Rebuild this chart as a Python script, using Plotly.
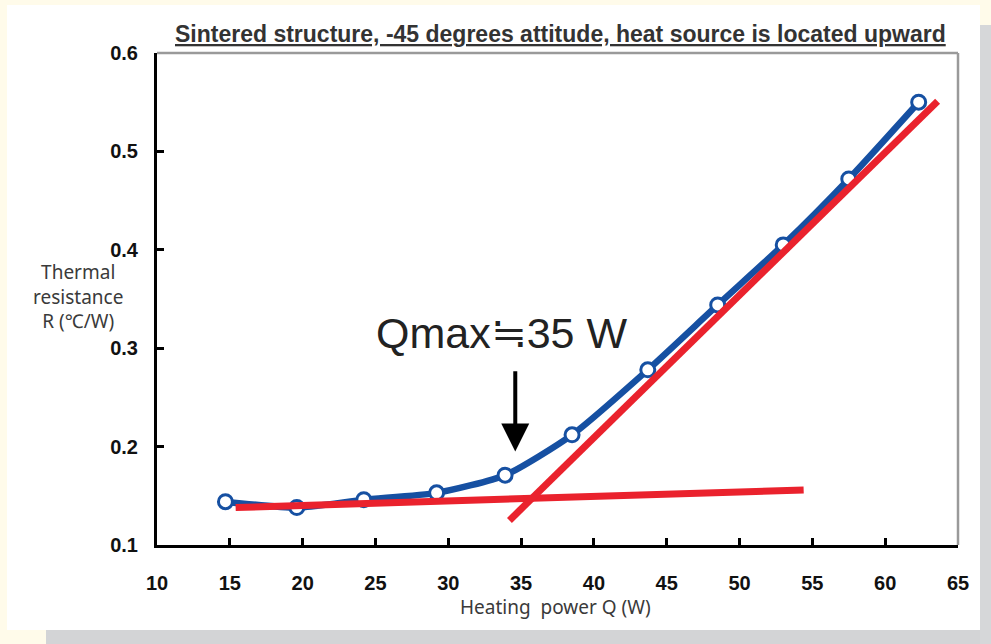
import plotly.graph_objects as go

# Measured data
heating_power = [14.7, 19.6, 24.2, 29.2, 33.9, 38.5, 43.7, 48.5, 53.0, 57.5, 62.3]
thermal_res = [0.144, 0.138, 0.146, 0.153, 0.171, 0.212, 0.278, 0.344, 0.405, 0.472, 0.550]

# Fitted asymptote lines
flat_x = [15.4, 54.4]
flat_y = [0.138, 0.156]
steep_x = [34.2, 63.6]
steep_y = [0.125, 0.551]

# Annotation arrow (Qmax)
arrow_x = 34.6
arrow_tail_y = 0.278
arrow_tip_y = 0.195

x_ticks = [10, 15, 20, 25, 30, 35, 40, 45, 50, 55, 60, 65]
y_ticks = [0.1, 0.2, 0.3, 0.4, 0.5, 0.6]

W, H = 991, 644
L, R, T, B = 157, 33, 53, 99
PW, PH = W - L - R, H - T - B

def px(x):
    return (x - L) / PW

def py(y):
    return (H - B - y) / PH

BLUE = "#1650a2"
RED = "#ea222d"

fig = go.Figure()
fig.add_trace(go.Scatter(
    x=heating_power, y=thermal_res, mode="lines+markers",
    line=dict(color=BLUE, width=6.5, shape="spline", smoothing=0.6),
    marker=dict(symbol="circle", size=14, color="white", line=dict(color=BLUE, width=3)),
    showlegend=False, cliponaxis=False))
fig.add_trace(go.Scatter(x=flat_x, y=flat_y, mode="lines",
                         line=dict(color=RED, width=7), showlegend=False))
fig.add_trace(go.Scatter(x=steep_x, y=steep_y, mode="lines",
                         line=dict(color=RED, width=7), showlegend=False))

shapes = [
    dict(type="rect", xref="paper", yref="paper", x0=px(46), x1=px(991), y0=py(644), y1=py(628),
         fillcolor="#d3d4d6", line=dict(width=0), layer="below"),
    dict(type="rect", xref="paper", yref="paper", x0=px(980), x1=px(991), y0=py(644), y1=py(25),
         fillcolor="#d6d7d9", line=dict(width=0), layer="below"),
    dict(type="rect", xref="paper", yref="paper", x0=px(7), x1=px(980), y0=py(630), y1=py(5),
         fillcolor="white", line=dict(width=0), layer="below"),
    dict(type="line", xref="paper", yref="paper", x0=0, x1=1, y0=1, y1=1,
         line=dict(color="#9a9a9a", width=2.5)),
    dict(type="line", xref="paper", yref="paper", x0=1, x1=1, y0=0, y1=1,
         line=dict(color="#9a9a9a", width=2.5)),
]

def ann(text, x, y, size, family, color="#333333", weight="normal"):
    return dict(text=text, xref="paper", yref="paper", x=px(x), y=py(y), showarrow=False,
                xanchor="center", yanchor="middle", align="center",
                font=dict(family=family, size=size, color=color, weight=weight))

annotations = [
    ann("<u>Sintered structure, -45 degrees attitude, heat source is located upward</u>",
        560, 34, 23, "Liberation Sans Narrow, Arial Narrow, sans-serif", weight="bold"),
    ann("Thermal<br>resistance<br>R (℃/W)", 78, 296, 19, "Noto Sans, sans-serif", color="#3a3a3a"),
    ann("Heating  power Q (W)", 555, 607, 19, "Noto Sans, sans-serif", color="#3a3a3a"),
    ann("Qmax≒35 W", 501, 333, 43, "Liberation Sans, Arial, sans-serif", color="#222222"),
    dict(x=arrow_x, y=arrow_tip_y, ax=arrow_x, ay=arrow_tail_y, xref="x", yref="y",
         axref="x", ayref="y", text="", showarrow=True, arrowhead=2, arrowsize=1.4,
         arrowwidth=4, arrowcolor="black"),
]

tf = dict(family="Liberation Sans, Arial, sans-serif", size=20, color="#111111", weight="bold")

fig.update_layout(
    width=W, height=H, margin=dict(l=L, r=R, t=T, b=B),
    paper_bgcolor="#fffbea", plot_bgcolor="white",
    shapes=shapes, annotations=annotations,
    xaxis=dict(range=[10, 65], tickvals=x_ticks, ticks="inside", ticklen=7, tickwidth=2.5,
               tickcolor="black", showline=True, linecolor="black", linewidth=3,
               showgrid=False, zeroline=False, ticklabelstandoff=18, tickfont=tf),
    yaxis=dict(range=[0.1, 0.6], tickvals=y_ticks, tickformat=".1f", ticks="inside", ticklen=7,
               tickwidth=2.5, tickcolor="black", showline=True, linecolor="black", linewidth=3,
               showgrid=False, zeroline=False, ticklabelstandoff=12, tickfont=tf),
)

fig.write_html("out.html")
